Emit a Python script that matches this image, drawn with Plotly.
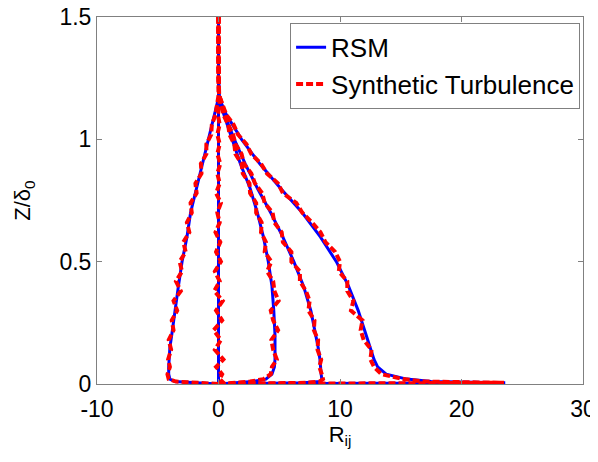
import plotly.graph_objects as go

# Wall-normal coordinate for the RSM profiles
z_rsm = [0, 0.005, 0.01, 0.02, 0.04, 0.07, 0.1, 0.15, 0.2, 0.3, 0.4, 0.5, 0.6,
         0.7, 0.8, 0.9, 1.0, 1.1, 1.17, 1.25, 1.35, 1.5]

rsm_a = [0, 23.6, 17.5, 15.5, 13.8, 13.1, 12.8, 12.45, 12.15, 11.5, 10.7, 9.7, 8.4,
         6.9, 5.1, 3.4, 1.9, 0.65, 0.05, 0, 0, 0]
rsm_b = [0, 7.0, 8.4, 8.5, 8.45, 8.4, 8.35, 8.2, 8.0, 7.6, 7.0, 6.2, 5.3,
         4.3, 3.2, 2.2, 1.3, 0.5, 0.05, 0, 0, 0]
rsm_c = [0, 1.5, 2.8, 3.9, 4.4, 4.6, 4.65, 4.65, 4.65, 4.55, 4.4, 4.1, 3.7,
         3.2, 2.6, 1.8, 1.1, 0.45, 0.05, 0, 0, 0]
rsm_d = [0, -2.5, -3.6, -4.0, -4.1, -4.1, -4.05, -4.0, -3.85, -3.6, -3.3, -3.0, -2.6,
         -2.3, -1.8, -1.3, -0.8, -0.3, 0, 0, 0, 0]
rsm_e = [0, 0, 0, 0.02, 0.05, 0.05, 0.05, 0.05, 0.05, 0.05, 0.05, 0.05, 0.05,
         0.05, 0.05, 0.05, 0.05, 0.05, 0.02, 0, 0, 0]

# Wall-normal coordinate for the synthetic turbulence profiles
z_syn = [0, 0.005, 0.01, 0.02, 0.04, 0.07, 0.10, 0.14, 0.18, 0.22, 0.26, 0.30, 0.34,
         0.38, 0.42, 0.46, 0.50, 0.54, 0.58, 0.62, 0.66, 0.70, 0.74, 0.78, 0.82,
         0.86, 0.90, 0.94, 0.98, 1.02, 1.06, 1.10, 1.14, 1.18, 1.25, 1.35, 1.5]

syn_a = [0, 23.5, 17.0, 15.2, 13.4, 12.8, 12.5, 12.6, 11.95, 11.7, 11.85, 10.9, 11.1,
         10.6, 10.6, 9.9, 10.0, 9.6, 8.8, 8.4, 7.7, 6.9, 6.4, 5.3, 4.9,
         4.0, 3.5, 2.7, 2.3, 1.6, 1.25, 0.65, 0.35, 0.05, 0, 0, 0]
syn_b = [0, 7.2, 8.3, 8.6, 8.5, 8.3, 8.45, 8.15, 8.2, 7.85, 7.9, 7.4, 7.5,
         7.2, 6.7, 6.7, 6.0, 6.0, 5.3, 5.2, 4.6, 4.45, 3.8, 3.6, 3.0,
         2.7, 2.1, 1.9, 1.4, 1.2, 0.8, 0.55, 0.25, 0.05, 0, 0, 0]
syn_c = [0, 1.3, 2.6, 3.7, 4.3, 4.4, 4.8, 4.5, 4.35, 4.9, 4.5, 4.3, 4.95,
         4.6, 4.5, 4.0, 4.35, 3.8, 3.9, 3.5, 3.55, 3.1, 3.1, 2.6, 2.55,
         2.0, 1.9, 1.4, 1.3, 0.9, 0.8, 0.4, 0.3, 0.05, 0, 0, 0]
syn_d = [0, -2.3, -3.5, -4.1, -4.2, -4.0, -4.15, -3.9, -4.1, -3.7, -3.85, -3.4, -3.7,
         -3.1, -3.5, -3.0, -3.2, -2.7, -2.9, -2.4, -2.6, -2.2, -2.3, -1.8, -1.9,
         -1.4, -1.45, -1.0, -1.0, -0.6, -0.55, -0.25, -0.15, 0, 0, 0, 0]
syn_e = [0, 0.2, 0.3, 0.1, 0.3, -0.2, 0.4, -0.3, 0.2, -0.4, 0.3, -0.2, 0.35,
         -0.35, 0.1, -0.3, 0.2, -0.2, 0.15, -0.25, 0.1, -0.1, 0.2, -0.2, 0.1,
         -0.1, 0.15, -0.1, 0.1, -0.1, 0.1, -0.05, 0.1, 0.05, 0, 0, 0]

x_ticks = [-10, 0, 10, 20, 30]
x_tick_text = ["-10", "0", "10", "20", "30"]
y_ticks = [0, 0.5, 1, 1.5]
y_tick_text = ["0", "0.5", "1", "1.5"]

FONT = "Liberation Sans, Arial, Helvetica, sans-serif"

fig = go.Figure()
for i, xs in enumerate([rsm_a, rsm_b, rsm_c, rsm_d, rsm_e]):
    fig.add_trace(go.Scatter(x=xs, y=z_rsm, mode="lines", name="RSM",
                             showlegend=(i == 0),
                             line=dict(color="#0000ff", width=3)))
for i, xs in enumerate([syn_a, syn_b, syn_c, syn_d, syn_e]):
    fig.add_trace(go.Scatter(x=xs, y=z_syn, mode="lines", name="Synthetic Turbulence",
                             showlegend=(i == 0),
                             line=dict(color="#ff0000", width=4, dash="7px,3px")))

axis_common = dict(showgrid=False, zeroline=False, showline=True, linecolor="#808080",
                   linewidth=1, mirror="ticks", ticks="inside", ticklen=5,
                   tickcolor="#808080", automargin=False, ticklabeloverflow="allow",
                   tickfont=dict(family=FONT, size=23, color="black"))

# The page body adds an 8px offset on every side; the figure is sized so the
# page does not overflow the window, and margins place the plot area as in the reference.
fig.update_layout(
    width=590, height=446,
    margin=dict(l=89, r=15, t=9, b=70),
    paper_bgcolor="white", plot_bgcolor="white",
    font=dict(family=FONT, color="black"),
    xaxis=dict(range=[-10, 30], tickvals=x_ticks, ticktext=x_tick_text, ticklabelstandoff=4,
               title=dict(text="R<sub>ij</sub>", font=dict(family=FONT, size=22), standoff=0),
               **axis_common),
    yaxis=dict(range=[0, 1.5], tickvals=y_ticks, ticktext=y_tick_text,
               title=dict(text="Z/δ<sub>0</sub>", font=dict(family=FONT, size=22), standoff=22),
               **axis_common),
    legend=dict(x=0.994, xanchor="right", y=0.984, yanchor="top",
                bgcolor="white", bordercolor="#808080", borderwidth=1,
                font=dict(family=FONT, size=26, color="black"),
                tracegroupgap=0),
)

fig.write_html("out.html")
